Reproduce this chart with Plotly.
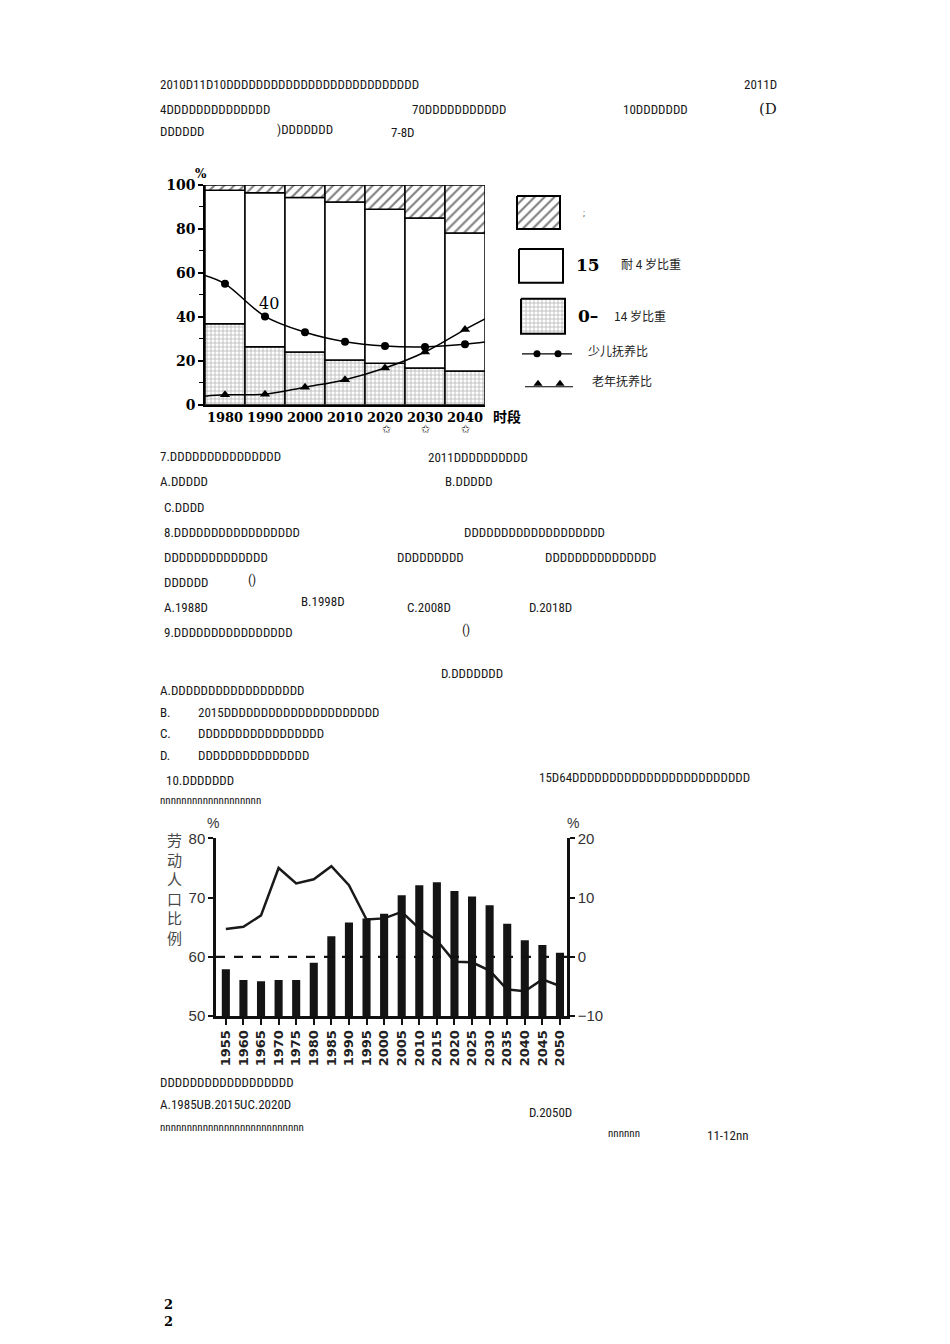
import plotly.graph_objects as go

W, H = 950, 1344

# ---------------- Chart 1 data ----------------
years1 = [1980, 1990, 2000, 2010, 2020, 2030, 2040]
x_labels1 = ["1980", "1990", "2000", "2010", "2020", "2030", "2040"]
share_0_14 = [36.9, 26.4, 24.0, 20.3, 18.9, 16.7, 15.3]
share_65 = [2.4, 3.6, 5.7, 7.8, 11.1, 15.0, 21.9]
share_15_64 = [round(100 - a - b, 1) for a, b in zip(share_0_14, share_65)]
child_dep = [55.0, 40.2, 33.0, 28.7, 26.7, 26.3, 27.5]
old_dep = [4.5, 4.8, 8.0, 11.4, 16.7, 24.0, 34.2]
# curve ends drawn at the plot edges
curve_x = [1975, 1980, 1990, 2000, 2010, 2020, 2030, 2040, 2045]
child_curve = [58.8, 55.0, 40.2, 33.0, 28.7, 26.7, 26.3, 27.5, 28.5]
old_curve = [3.9, 4.5, 4.8, 8.0, 11.4, 16.7, 24.0, 34.2, 39.0]
y_ticks1 = [0, 20, 40, 60, 80, 100]
y_minor1 = [10, 30, 50, 70, 90]

# ---------------- Chart 2 data ----------------
years2 = [1955, 1960, 1965, 1970, 1975, 1980, 1985, 1990, 1995, 2000,
          2005, 2010, 2015, 2020, 2025, 2030, 2035, 2040, 2045, 2050]
labor_ratio = [64.7, 65.1, 67.0, 75.0, 72.4, 73.1, 75.3, 72.1, 66.3, 66.5,
               67.6, 64.8, 62.8, 59.2, 59.1, 57.7, 54.5, 54.2, 56.2, 55.1]
bar_vals2 = [-2.1, -3.9, -4.1, -3.9, -3.9, -1.0, 3.5, 5.8, 6.5, 7.3,
             10.4, 12.1, 12.6, 11.1, 10.2, 8.7, 5.6, 2.8, 2.0, 0.7]
left_ticks2 = [50, 60, 70, 80]
right_ticks2 = [-10, 0, 10, 20]
right_base = -10

# ---------------- page text (left x, centre y, text) ----------------
page_text = [
    (158, 83, "2010D11D10DDDDDDDDDDDDDDDDDDDDDDDDDD"),
    (158, 108, "4DDDDDDDDDDDDDD"),
    (410, 108, "70DDDDDDDDDDD"),
    (621, 108, "10DDDDDDD"),
    (158, 131, "DDDDDD"),
    (275, 129, ")DDDDDDD"),
    (389, 132, "7-8D"),
    (158, 456, "7.DDDDDDDDDDDDDDD"),
    (426, 457, "2011DDDDDDDDDD"),
    (158, 481, "A.DDDDD"),
    (443, 481, "B.DDDDD"),
    (162, 507, "C.DDDD"),
    (162, 532, "8.DDDDDDDDDDDDDDDDD"),
    (462, 532, "DDDDDDDDDDDDDDDDDDD"),
    (162, 557, "DDDDDDDDDDDDDD"),
    (395, 557, "DDDDDDDDD"),
    (543, 557, "DDDDDDDDDDDDDDD"),
    (162, 582, "DDDDDD"),
    (246, 579, "()"),
    (162, 607, "A.1988D"),
    (299, 601, "B.1998D"),
    (405, 607, "C.2008D"),
    (527, 607, "D.2018D"),
    (162, 632, "9.DDDDDDDDDDDDDDDD"),
    (460, 629, "()"),
    (439, 673, "D.DDDDDDD"),
    (158, 690, "A.DDDDDDDDDDDDDDDDDD"),
    (158, 712, "B."),
    (196, 712, "2015DDDDDDDDDDDDDDDDDDDDD"),
    (158, 733, "C."),
    (196, 733, "DDDDDDDDDDDDDDDDD"),
    (158, 755, "D."),
    (196, 755, "DDDDDDDDDDDDDDD"),
    (164, 780, "10.DDDDDDD"),
    (537, 777, "15D64DDDDDDDDDDDDDDDDDDDDDDDD"),
    (158, 1082, "DDDDDDDDDDDDDDDDDD"),
    (158, 1104, "A.1985UB.2015UC.2020D"),
    (527, 1112, "D.2050D"),
    (705, 1135, "11-12nn"),
]
small_text = [
    (158, 800, "nnnnnnnnnnnnnnnnnnn"),
    (158, 1127, "nnnnnnnnnnnnnnnnnnnnnnnnnnn"),
    (606, 1133, "nnnnnn"),
]

TXT_FONT = "Roboto Condensed, DejaVu Sans Condensed, sans-serif"
SERIF = "DejaVu Serif, Liberation Serif, serif"
CJK = "Noto Sans CJK SC, sans-serif"

# the photographed page is shown with ~8 px of white above and below it;
# target positions are given in reference-page pixels and mapped here.
V_PAD = 8
V_K = (H + 2 * V_PAD) / H


def px(x):
    return x / W


def fig_y(y):
    return y * V_K - V_PAD


def py(y):
    return 1 - fig_y(y) / H


fig = go.Figure()

# ---------------- Chart 1 traces ----------------
bar_line = dict(color="black", width=1.5)
grid_pat = dict(shape="+", fgcolor="#666", bgcolor="white", size=4, solidity=0.35)
hatch_pat = dict(shape="/", fgcolor="black", bgcolor="white", size=7, solidity=0.3)
fig.add_trace(go.Bar(x=years1, y=share_0_14, base=0, width=10,
                     marker=dict(color="white", line=bar_line, pattern=grid_pat),
                     xaxis="x", yaxis="y", showlegend=False))
fig.add_trace(go.Bar(x=years1, y=share_15_64, base=share_0_14, width=10,
                     marker=dict(color="white", line=bar_line),
                     xaxis="x", yaxis="y", showlegend=False))
fig.add_trace(go.Bar(x=years1, y=share_65,
                     base=[a + b for a, b in zip(share_0_14, share_15_64)], width=10,
                     marker=dict(color="white", line=bar_line, pattern=hatch_pat),
                     xaxis="x", yaxis="y", showlegend=False))
fig.add_trace(go.Scatter(x=curve_x, y=child_curve, mode="lines",
                         line=dict(color="black", width=1.5, shape="spline"),
                         xaxis="x", yaxis="y", showlegend=False))
fig.add_trace(go.Scatter(x=years1, y=child_dep, mode="markers",
                         marker=dict(color="black", size=8, symbol="circle"),
                         xaxis="x", yaxis="y", showlegend=False))
fig.add_trace(go.Scatter(x=curve_x, y=old_curve, mode="lines",
                         line=dict(color="black", width=1.5, shape="spline"),
                         xaxis="x", yaxis="y", showlegend=False))
fig.add_trace(go.Scatter(x=years1, y=old_dep, mode="markers",
                         marker=dict(color="black", size=9, symbol="triangle-up"),
                         xaxis="x", yaxis="y", showlegend=False))

# ---------------- Chart 2 traces ----------------
fig.add_trace(go.Bar(x=years2, y=[v - right_base for v in bar_vals2], base=right_base,
                     width=2.3, marker=dict(color="#141414", line=dict(width=0)),
                     xaxis="x2", yaxis="y3", showlegend=False))
fig.add_trace(go.Scatter(x=years2, y=labor_ratio, mode="lines",
                         line=dict(color="#1a1a1a", width=2.5),
                         xaxis="x2", yaxis="y2", showlegend=False))

# ---------------- legend decorations for chart 1 (page pixel axis) ----------------
def box(x0, y0, x1, y1):
    return [x0, x1, x1, x0, x0], [y0, y0, y1, y1, y0]


legend_boxes = [((517, 195, 560, 228), hatch_pat), ((519, 248, 563, 282), None),
                ((521, 298, 565, 333), grid_pat)]
for (x0, y0, x1, y1), pat in legend_boxes:
    bx, by = box(x0, y0, x1, y1)
    kw = dict(fillpattern=pat) if pat else {}
    fig.add_trace(go.Scatter(x=bx, y=by, mode="lines", fill="toself", fillcolor="white",
                             line=dict(color="black", width=2), xaxis="x5", yaxis="y5",
                             showlegend=False, hoverinfo="skip", **kw))
fig.add_trace(go.Scatter(x=[522, 572], y=[353, 353], mode="lines",
                         line=dict(color="black", width=1.2),
                         xaxis="x5", yaxis="y5", showlegend=False, hoverinfo="skip"))
fig.add_trace(go.Scatter(x=[537, 558], y=[353, 353], mode="markers",
                         marker=dict(color="black", size=7),
                         xaxis="x5", yaxis="y5", showlegend=False, hoverinfo="skip"))
fig.add_trace(go.Scatter(x=[525, 573], y=[386, 386], mode="lines",
                         line=dict(color="black", width=1.2),
                         xaxis="x5", yaxis="y5", showlegend=False, hoverinfo="skip"))
fig.add_trace(go.Scatter(x=[538, 560], y=[383, 383], mode="markers",
                         marker=dict(color="black", size=8, symbol="triangle-up"),
                         xaxis="x5", yaxis="y5", showlegend=False, hoverinfo="skip"))

# ---------------- layout ----------------
c1_x0, c1_x1, c1_top, c1_bot = 205, 485, 184, 404
c2_x0, c2_x1, c2_top, c2_bot = 216, 567, 838, 1016

fig.update_layout(
    width=W, height=H, autosize=False,
    margin=dict(l=0, r=0, t=0, b=0, pad=0),
    paper_bgcolor="white", plot_bgcolor="rgba(0,0,0,0)",
    barmode="overlay",
    xaxis=dict(domain=[px(c1_x0), px(c1_x1)], range=[1975, 2045], anchor="y",
               tickvals=years1, ticktext=x_labels1, ticks="", tickangle=0,
               showline=True, linecolor="black", linewidth=1.5, showgrid=False,
               zeroline=False,
               tickfont=dict(family=SERIF, size=13, color="black", weight="bold")),
    yaxis=dict(domain=[py(c1_bot), py(c1_top)], range=[0, 100], anchor="x",
               tickvals=y_ticks1, ticks="outside", ticklen=5, tickwidth=1.5,
               tickcolor="black", showline=True, linecolor="black", linewidth=1.5,
               showgrid=False, zeroline=False,
               minor=dict(tickvals=y_minor1, ticks="outside", ticklen=4,
                          tickwidth=1.2, tickcolor="black"),
               tickfont=dict(family=SERIF, size=14, color="black", weight="bold")),
    xaxis2=dict(domain=[px(c2_x0), px(c2_x1)], range=[1952.2, 2052], anchor="y2",
                tickvals=years2, ticktext=[str(y) for y in years2], tickangle=-90,
                ticks="outside", ticklen=6, tickwidth=2, tickcolor="#111",
                showline=True, linecolor="#111", linewidth=2.5, showgrid=False,
                zeroline=False,
                tickfont=dict(family="DejaVu Sans, sans-serif", size=13,
                              color="#222", weight="bold")),
    yaxis2=dict(domain=[py(c2_bot), py(c2_top)], range=[50, 80], anchor="x2",
                tickvals=left_ticks2, ticks="outside", ticklen=5, tickwidth=2,
                tickcolor="#111", showline=True, linecolor="#111", linewidth=2.5,
                showgrid=False, zeroline=False,
                tickfont=dict(family="Liberation Sans, sans-serif", size=15, color="#333")),
    yaxis3=dict(domain=[py(c2_bot), py(c2_top)], range=[-10, 20], anchor="x2",
                overlaying="y2", side="right",
                tickvals=right_ticks2, ticks="outside", ticklen=5, tickwidth=2,
                tickcolor="#111", showline=True, linecolor="#111", linewidth=2.5,
                showgrid=False, zeroline=False,
                tickfont=dict(family="Liberation Sans, sans-serif", size=15, color="#333")),
    xaxis5=dict(domain=[0, 1], range=[0, W], visible=False, anchor="y5", fixedrange=True),
    yaxis5=dict(domain=[0, 1], range=[(H + V_PAD) / V_K, V_PAD / V_K], visible=False,
                anchor="x5", fixedrange=True),
)

# dashed reference line at 60 % (chart 2)
fig.add_shape(type="line", xref="x2 domain", yref="y2", x0=0, x1=1, y0=60, y1=60,
              line=dict(color="#111", width=2.2, dash="dash"))

ann = []


def add_text(x, y, text, size=13, family=TXT_FONT, color="#1a1a1a", xanchor="left",
             weight="normal"):
    ann.append(dict(x=px(x), y=py(y), xref="paper", yref="paper", text=text,
                    showarrow=False, xanchor=xanchor, yanchor="middle",
                    font=dict(family=family, size=size, color=color, weight=weight)))


for x, y, t in page_text:
    add_text(x, y, t, size=13)
for x, y, t in small_text:
    add_text(x, y, t, size=11)
add_text(779, 83, "2011D", size=13, xanchor="right")
add_text(779, 108, "(D", size=15, family=SERIF, xanchor="right")

# chart 1 extra text
add_text(201, 173, "%", size=12, family=SERIF, color="black", xanchor="center", weight="bold")
add_text(269, 303, "40", size=16, family=SERIF, color="black", xanchor="center")
add_text(491, 415, "时段", size=14, family=CJK, color="black", weight="bold")
for xs in [386, 425, 465]:
    add_text(xs, 429, "✩", size=11, family="DejaVu Sans", color="black", xanchor="center")
add_text(584, 212, ";", size=9, color="#555", xanchor="center")
add_text(588, 264, "15", size=17, family=SERIF, color="black", xanchor="center", weight="bold")
add_text(619, 263, "耐 4 岁比重", size=12, family=CJK, color="#222")
add_text(588, 315, "0–", size=17, family=SERIF, color="black", xanchor="center", weight="bold")
add_text(612, 315, "14 岁比重", size=12, family=CJK, color="#222")
add_text(586, 350, "少儿抚养比", size=12, family=CJK, color="#222")
add_text(590, 380, "老年抚养比", size=12, family=CJK, color="#222")

# chart 2 extra text
add_text(213, 823, "%", size=14, family="Liberation Sans", color="#333", xanchor="center")
add_text(573, 823, "%", size=14, family="Liberation Sans", color="#333", xanchor="center")
add_text(174, 888, "<br>".join("劳动人口比例"), size=15, family=CJK, color="#4a4a4a",
         xanchor="center")

# page number
add_text(168, 1305, "2", size=13, family=SERIF, color="black", xanchor="center", weight="bold")
add_text(168, 1322, "2", size=13, family=SERIF, color="black", xanchor="center", weight="bold")

fig.update_layout(annotations=ann)

post = ("document.documentElement.style.margin='0';document.documentElement.style.padding='0';"
        "document.body.style.margin='0';document.body.style.padding='0';"
        "document.body.style.overflow='hidden';")
fig.write_html("out.html", config={"displayModeBar": False}, post_script=post)
